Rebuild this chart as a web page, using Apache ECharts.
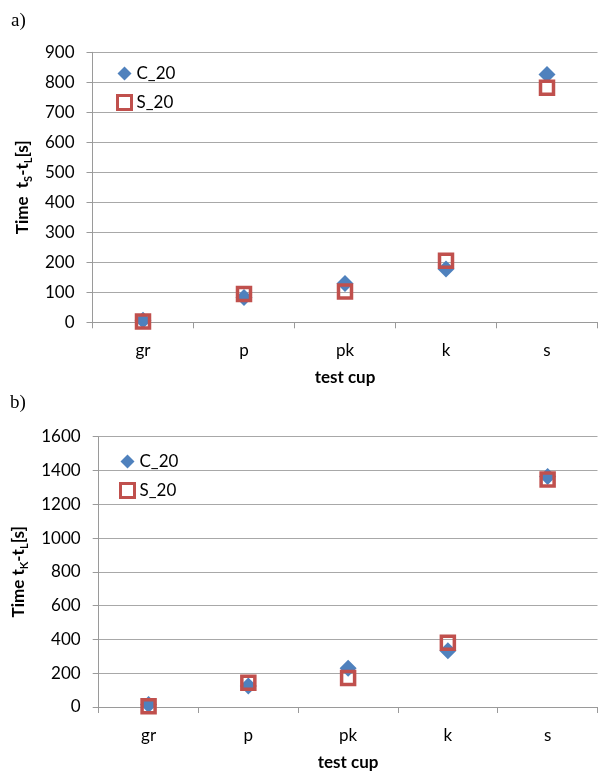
<!DOCTYPE html>
<html>
<head>
<meta charset="utf-8">
<script src="https://cdn.jsdelivr.net/npm/echarts@6/dist/echarts.min.js"></script>
<style>
  html, body { margin: 0; padding: 0; background: #fff; }
  #chart { width: 598px; height: 772px; }
</style>
</head>
<body>
<div id="chart"></div>
<script>
// Test cups along the horizontal axis
var cups = ['gr', 'p', 'pk', 'k', 's'];

// a) time t_S - t_L [s]
var topC20 = [7, 83, 129, 178, 826];
var topS20 = [3, 94, 103, 205, 782];

// b) time t_K - t_L [s]
var botC20 = [15, 124, 229, 333, 1364];
var botS20 = [5, 143, 171, 381, 1347];

var FONT = 'Lato';
var BLUE = '#4F81BD';
var RED = '#C0504D';
var AXIS = '#9a9a9a';
var GRID = '#a8a8a8';

function titleRich() {
  return {
    m: { fontFamily: FONT, fontWeight: 'bold', fontSize: 17, color: '#000', lineHeight: 24 },
    s: { fontFamily: FONT, fontWeight: 'bold', fontSize: 11, color: '#000', lineHeight: 10, verticalAlign: 'bottom' }
  };
}

function xAxisFor(idx) {
  return {
    type: 'category', gridIndex: idx, data: cups, boundaryGap: true,
    axisLine: { lineStyle: { color: AXIS, width: 1 } },
    axisTick: { show: true, length: 6, lineStyle: { color: AXIS } },
    axisLabel: { fontFamily: FONT, fontSize: 17, color: '#000', margin: 20 },
    splitLine: { show: false },
    name: 'test cup', nameLocation: 'middle', nameGap: 47,
    nameTextStyle: { fontFamily: FONT, fontWeight: 'bold', fontSize: 17, color: '#000' }
  };
}

function yAxisFor(idx, max, step, name, gap) {
  return {
    type: 'value', gridIndex: idx, min: 0, max: max, interval: step,
    axisLine: { show: true, lineStyle: { color: AXIS, width: 1 } },
    axisTick: { show: true, length: 6, lineStyle: { color: AXIS } },
    axisLabel: {
      fontFamily: FONT, fontSize: 17, color: '#000', margin: 18,
      formatter: function (v) { return String(v); }
    },
    splitLine: { show: true, lineStyle: { color: GRID, width: 1 } },
    name: name, nameLocation: 'middle', nameGap: gap,
    nameTextStyle: { rich: titleRich() }
  };
}

function cSeries(idx, data) {
  return {
    name: 'C_20', type: 'scatter', xAxisIndex: idx, yAxisIndex: idx,
    symbol: 'diamond', symbolSize: [17, 17],
    itemStyle: { color: BLUE, opacity: 1 },
    data: data
  };
}
function sSeries(idx, data) {
  return {
    name: 'S_20', type: 'scatter', xAxisIndex: idx, yAxisIndex: idx,
    symbol: 'rect', symbolSize: [13, 13],
    itemStyle: { color: 'rgba(255,255,255,0)', borderColor: RED, borderWidth: 3.5, opacity: 1 },
    data: data
  };
}

function legendAt(left, top) {
  return {
    orient: 'vertical', left: left, top: top, itemGap: 12,
    itemWidth: 14, itemHeight: 14,
    textStyle: { fontFamily: FONT, fontSize: 17, color: '#000' },
    selectedMode: false,
    data: [
      { name: 'C_20', icon: 'diamond', itemStyle: { color: BLUE, opacity: 1 } },
      { name: 'S_20', icon: 'rect', itemStyle: { color: '#fff', borderColor: RED, borderWidth: 3, opacity: 1 } }
    ]
  };
}

var chart = echarts.init(document.getElementById('chart'), null, { renderer: 'canvas' });
chart.setOption({
  backgroundColor: '#fff',
  animation: false,
  textStyle: { fontFamily: FONT },
  grid: [
    { left: 92.5, right: 0.5, top: 52.3, height: 270 },
    { left: 98.7, right: 0.5, top: 436.7, height: 271.6 }
  ],
  xAxis: [xAxisFor(0), xAxisFor(1)],
  yAxis: [
    yAxisFor(0, 900, 100, '{m|Time  t}{s|S}{m|-t}{s|L}{m|[s]}', 46),
    yAxisFor(1, 1600, 200, '{m|Time t}{s|K}{m|-t}{s|L}{m|[s]}', 49)
  ],
  legend: [legendAt(111, 60), legendAt(114, 448)],
  series: [
    cSeries(0, topC20), sSeries(0, topS20),
    cSeries(1, botC20), sSeries(1, botS20)
  ],
  graphic: [
    { type: 'text', left: 11, top: 12, style: { text: 'a)', font: '19px "Liberation Serif"', fill: '#000' } },
    { type: 'text', left: 10, top: 394, style: { text: 'b)', font: '19px "Liberation Serif"', fill: '#000' } }
  ]
});
</script>
</body>
</html>
